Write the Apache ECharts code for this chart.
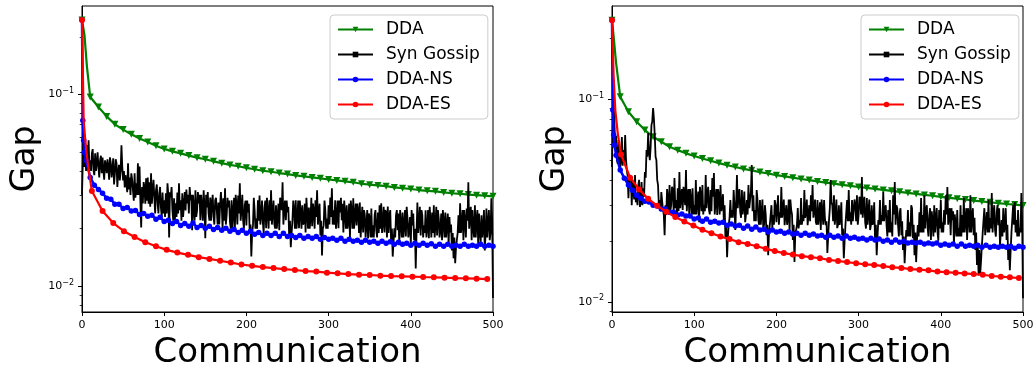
<!DOCTYPE html>
<html>
<head>
<meta charset="utf-8">
<script src="https://cdn.jsdelivr.net/npm/echarts@6.0.0/dist/echarts.min.js"></script>
<style>
html,body{margin:0;padding:0;background:#fff;}
#chart{width:1034px;height:370px;}
</style>
</head>
<body>
<div id="chart"></div>
<script>
// ---------- data ----------
const seriesNames = ['DDA', 'Syn Gossip', 'DDA-NS', 'DDA-ES'];
const xTickValues = [0, 100, 200, 300, 400, 500];
const yMajorTicks = [0.01, 0.1];
const yMinorTicks = [0.008, 0.009, 0.02, 0.03, 0.04, 0.05, 0.06, 0.07, 0.08, 0.09, 0.2];
const leftYRange = [0.00735, 0.2899];
const rightYRange = [0.0089, 0.2891];

function range(a, b, s) { const r = []; for (let v = a; v <= b + 1e-9; v += s) r.push(v); return r; }

// DDA (green)
const leftDdaHeadX = [0, 3, 6];
const leftDdaHeadY = [0.245, 0.205, 0.140];
const leftDdaX = range(10, 500, 10);
const leftDdaY = [0.0972,0.0862,0.0770,0.0700,0.0657,0.0621,0.0590,0.0566,0.0541,0.0521,
  0.0506,0.0494,0.0481,0.0469,0.0460,0.0449,0.0439,0.0430,0.0423,0.0415,
  0.0408,0.0401,0.0396,0.0390,0.0385,0.0379,0.0375,0.0370,0.0366,0.0361,
  0.0357,0.0353,0.0349,0.0343,0.0339,0.0336,0.0333,0.0328,0.0325,0.0322,
  0.0318,0.0315,0.0313,0.0309,0.0306,0.0304,0.0301,0.0299,0.0297,0.0295];
const rightDdaHeadX = [0, 2, 5];
const rightDdaHeadY = [0.246, 0.204, 0.151];
const rightDdaX = range(10, 500, 10);
const rightDdaY = [0.103,0.0868,0.0775,0.0705,0.0653,0.0617,0.0583,0.0561,0.0541,0.0525,
  0.0510,0.0497,0.0484,0.0473,0.0463,0.0453,0.0446,0.0437,0.0430,0.0422,
  0.0416,0.0410,0.0404,0.0399,0.0393,0.0388,0.0383,0.0378,0.0374,0.0369,
  0.0365,0.0361,0.0357,0.0353,0.0349,0.0345,0.0341,0.0337,0.0334,0.0330,
  0.0326,0.0323,0.0320,0.0316,0.0313,0.0310,0.0307,0.0304,0.0302,0.0299];

// DDA-ES (red)
const leftEsHeadX = [0, 2, 4, 7];
const leftEsHeadY = [0.245, 0.0734, 0.0578, 0.0439];
const leftEsX = range(12, 493, 13);
const leftEsY = [0.0314,0.0247,0.0214,0.0194,0.0181,0.0170,0.0162,0.0155,0.0150,0.0146,
  0.0142,0.0139,0.0136,0.0133,0.0130,0.0128,0.0126,0.01246,0.01231,0.01217,
  0.01202,0.01194,0.01179,0.01169,0.01159,0.01151,0.01146,0.01137,0.01132,0.01128,
  0.01124,0.01119,0.01115,0.01110,0.01105,0.01101,0.01097,0.01092];
const rightEsHeadX = [0, 2, 4, 7];
const rightEsHeadY = [0.246, 0.129, 0.0885, 0.0679];
const rightEsX = range(11, 495, 11);
const rightEsY = [0.0534,0.0410,0.0359,0.0323,0.0298,0.0278,0.0262,0.0249,0.0238,0.0227,
  0.0218,0.0210,0.0204,0.0197,0.0193,0.0188,0.0183,0.0178,0.0174,0.0171,
  0.0168,0.0166,0.0164,0.0161,0.0159,0.0157,0.0155,0.0153,0.0152,0.0150,
  0.0148,0.0147,0.0145,0.0144,0.0143,0.0141,0.0140,0.0139,0.0138,0.0137,
  0.0136,0.0134,0.0133,0.0132,0.0131];

// DDA-NS (blue)
const nsHeadX = [0, 1, 2, 3, 5];
const nsX = range(10, 500, 5);
const leftNsHeadY = [0.245, 0.0734, 0.0578, 0.0500, 0.0454];
const leftNsY = [0.0370,0.0337,0.0320,0.0306,0.0288,0.0285,0.0268,0.0268,0.0255,0.0258,
  0.0247,0.0249,0.0237,0.0240,0.0232,0.0235,0.0224,0.0229,0.0218,0.0221,
  0.0213,0.0218,0.0208,0.0213,0.0206,0.0214,0.0203,0.0208,0.0201,0.0206,
  0.0198,0.0203,0.0196,0.0201,0.0194,0.0198,0.0191,0.0196,0.0189,0.0194,
  0.0187,0.0191,0.0184,0.0189,0.0184,0.0189,0.0182,0.0189,0.0182,0.0184,
  0.0180,0.0184,0.0178,0.0182,0.0178,0.0182,0.0176,0.0180,0.0176,0.0178,
  0.0174,0.0178,0.0172,0.0176,0.0172,0.0174,0.0170,0.0174,0.0170,0.0172,
  0.0168,0.0172,0.0168,0.0171,0.0166,0.0170,0.0166,0.0168,0.0164,0.0168,
  0.0164,0.0168,0.0164,0.0167,0.0162,0.0166,0.0162,0.0166,0.0162,0.0164,
  0.0162,0.0166,0.0162,0.0164,0.0162,0.0166,0.0162,0.0164,0.0162];
const rightNsHeadY = [0.246, 0.0885, 0.0666, 0.0594, 0.0530];
const rightNsY = [0.0447,0.0408,0.0377,0.0356,0.0336,0.0325,0.0314,0.0311,0.0300,0.0297,
  0.0287,0.0287,0.0277,0.0277,0.0268,0.0271,0.0265,0.0265,0.0256,0.0259,
  0.0250,0.0256,0.0247,0.0250,0.0245,0.0247,0.0239,0.0242,0.0237,0.0239,
  0.0231,0.0237,0.0228,0.0234,0.0226,0.0228,0.0221,0.0226,0.0221,0.0223,
  0.0218,0.0221,0.0216,0.0218,0.0213,0.0218,0.0213,0.0216,0.0211,0.0213,
  0.0208,0.0213,0.0208,0.0211,0.0206,0.0211,0.0206,0.0208,0.0204,0.0206,
  0.0202,0.0206,0.0202,0.0204,0.0199,0.0202,0.0197,0.0202,0.0197,0.0199,
  0.0195,0.0197,0.0195,0.0197,0.0193,0.0195,0.0193,0.0195,0.0190,0.0193,
  0.0190,0.0193,0.0188,0.0193,0.0188,0.0190,0.0188,0.0190,0.0186,0.0190,
  0.0186,0.0188,0.0186,0.0188,0.0186,0.0188,0.0184,0.0188,0.0186];

// Syn Gossip (black), one value per communication from 0 to 500
const gossipX = range(0, 500, 1);
const leftGossipY = [
  0.030,0.045,0.0599,0.042,0.0500,0.040,0.0544,0.044,0.0578,0.041,
  0.0454,0.040,0.0494,0.052,0.0403,0.038,0.0494,0.040,0.0438,0.050,
  0.0418,0.037,0.0454,0.048,0.0389,0.047,0.0403,0.036,0.0454,0.043,
  0.0389,0.046,0.0418,0.036,0.0471,0.044,0.0370,0.041,0.0465,0.034,
  0.0389,0.046,0.0438,0.033,0.0393,0.043,0.0357,0.040,0.0544,0.042,
  0.0357,0.040,0.0328,0.038,0.0345,0.031,0.0438,0.032,0.0370,0.030,
  0.0389,0.036,0.0317,0.028,0.0389,0.029,0.0345,0.030,0.0438,0.030,
  0.0422,0.028,0.0203,0.033,0.0271,0.035,0.0328,0.027,0.0366,0.028,
  0.0370,0.027,0.0349,0.026,0.0389,0.027,0.0317,0.036,0.0291,0.024,
  0.0317,0.034,0.0271,0.024,0.0306,0.033,0.0258,0.023,0.0309,0.024,
  0.0281,0.023,0.0306,0.024,0.0345,0.030,0.0180,0.031,0.0291,0.033,
  0.0249,0.022,0.0288,0.022,0.0271,0.023,0.0309,0.024,0.0345,0.025,
  0.0281,0.022,0.0306,0.023,0.0265,0.031,0.0249,0.032,0.0271,0.030,
  0.0240,0.033,0.0281,0.030,0.0196,0.030,0.0255,0.022,0.0317,0.023,
  0.0249,0.031,0.0271,0.030,0.0221,0.030,0.0258,0.022,0.0317,0.026,
  0.0178,0.030,0.0258,0.031,0.0240,0.022,0.0291,0.022,0.0271,0.030,
  0.0232,0.021,0.0281,0.029,0.0249,0.021,0.0274,0.021,0.0265,0.031,
  0.0265,0.020,0.0288,0.022,0.0325,0.021,0.0235,0.029,0.0258,0.028,
  0.0216,0.020,0.0281,0.020,0.0243,0.029,0.0201,0.030,0.0265,0.021,
  0.0298,0.024,0.0345,0.022,0.0249,0.030,0.0221,0.020,0.0265,0.028,
  0.0208,0.028,0.0243,0.027,0.0191,0.021,0.0143,0.019,0.0208,0.029,
  0.0249,0.020,0.0226,0.020,0.0281,0.022,0.0298,0.021,0.0235,0.028,
  0.0216,0.019,0.0258,0.028,0.0201,0.029,0.0243,0.020,0.0281,0.022,
  0.0317,0.021,0.0240,0.028,0.0211,0.020,0.0265,0.020,0.0232,0.027,
  0.0196,0.029,0.0271,0.025,0.0349,0.021,0.0255,0.028,0.0221,0.028,
  0.0243,0.026,0.0184,0.022,0.0160,0.019,0.0221,0.028,0.0249,0.020,
  0.0281,0.020,0.0226,0.028,0.0201,0.028,0.0243,0.020,0.0265,0.021,
  0.0216,0.027,0.0191,0.029,0.0240,0.020,0.0258,0.020,0.0226,0.029,
  0.0206,0.027,0.0249,0.020,0.0281,0.023,0.0317,0.021,0.0243,0.027,
  0.0184,0.022,0.0145,0.020,0.0208,0.028,0.0249,0.020,0.0226,0.020,
  0.0265,0.021,0.0291,0.023,0.0325,0.021,0.0249,0.021,0.0281,0.020,
  0.0235,0.028,0.0201,0.028,0.0243,0.029,0.0221,0.027,0.0191,0.028,
  0.0237,0.020,0.0265,0.020,0.0221,0.027,0.0178,0.028,0.0249,0.020,
  0.0288,0.020,0.0235,0.027,0.0208,0.027,0.0249,0.019,0.0274,0.018,
  0.0221,0.026,0.0191,0.025,0.0237,0.018,0.0208,0.025,0.0178,0.024,
  0.0226,0.018,0.0255,0.018,0.0208,0.018,0.0235,0.025,0.0196,0.018,
  0.0243,0.019,0.0265,0.020,0.0271,0.019,0.0216,0.026,0.0191,0.025,
  0.0243,0.018,0.0261,0.019,0.0232,0.025,0.0174,0.020,0.0143,0.017,
  0.0201,0.018,0.0235,0.025,0.0196,0.024,0.0164,0.025,0.0216,0.018,
  0.0243,0.018,0.0208,0.025,0.0182,0.026,0.0226,0.018,0.0196,0.023,
  0.0164,0.025,0.0208,0.024,0.0174,0.020,0.0124,0.019,0.0274,0.019,
  0.0216,0.026,0.0184,0.025,0.0235,0.018,0.0208,0.019,0.0249,0.018,
  0.0201,0.025,0.0178,0.026,0.0221,0.018,0.0243,0.019,0.0265,0.018,
  0.0208,0.026,0.0184,0.025,0.0226,0.018,0.0196,0.024,0.0174,0.025,
  0.0216,0.018,0.0243,0.018,0.0208,0.024,0.0164,0.023,0.0191,0.021,
  0.0154,0.019,0.0140,0.018,0.0132,0.016,0.0174,0.019,0.0235,0.019,
  0.0271,0.019,0.0208,0.025,0.0174,0.025,0.0221,0.018,0.0255,0.022,
  0.0349,0.020,0.0235,0.026,0.0174,0.025,0.0201,0.018,0.0265,0.018,
  0.0221,0.025,0.0164,0.024,0.0191,0.017,0.0235,0.018,0.0201,0.025,
  0.0154,0.019,0.0255,0.018,0.0216,0.025,0.0174,0.019,0.0288,0.022,
  0.0087];
const rightGossipY = [
  0.0463,0.085,0.1245,0.075,0.0594,0.066,0.0501,0.048,0.0629,0.052,
  0.0458,0.050,0.0651,0.047,0.0561,0.049,0.0666,0.051,0.0447,0.042,
  0.0325,0.041,0.0399,0.041,0.0300,0.040,0.0356,0.032,0.0423,0.031,
  0.0336,0.030,0.0377,0.040,0.0294,0.031,0.0390,0.030,0.0364,0.033,
  0.0437,0.041,0.0561,0.052,0.0681,0.055,0.0501,0.058,0.0746,0.078,
  0.0906,0.080,0.0666,0.052,0.0501,0.040,0.0377,0.030,0.0318,0.028,
  0.0348,0.035,0.0284,0.027,0.0213,0.030,0.0268,0.036,0.0325,0.027,
  0.0377,0.028,0.0300,0.037,0.0356,0.028,0.0408,0.029,0.0318,0.027,
  0.0364,0.028,0.0437,0.029,0.0325,0.036,0.0284,0.037,0.0377,0.030,
  0.0447,0.028,0.0336,0.036,0.0268,0.036,0.0318,0.027,0.0364,0.027,
  0.0300,0.027,0.0399,0.027,0.0318,0.035,0.0247,0.037,0.0336,0.028,
  0.0377,0.027,0.0300,0.028,0.0423,0.029,0.0336,0.037,0.0284,0.027,
  0.0356,0.028,0.0408,0.033,0.0432,0.027,0.0318,0.036,0.0268,0.036,
  0.0336,0.027,0.0377,0.028,0.0300,0.034,0.0253,0.030,0.0206,0.024,
  0.0166,0.021,0.0239,0.026,0.0318,0.026,0.0284,0.026,0.0356,0.030,
  0.0226,0.030,0.0423,0.029,0.0336,0.036,0.0277,0.026,0.0356,0.027,
  0.0300,0.035,0.0247,0.027,0.0318,0.027,0.0377,0.029,0.0284,0.035,
  0.0474,0.028,0.0336,0.025,0.0284,0.025,0.0356,0.032,0.0253,0.024,
  0.0318,0.024,0.0277,0.032,0.0231,0.024,0.0300,0.027,0.0213,0.024,
  0.0170,0.022,0.0239,0.024,0.0300,0.023,0.0268,0.024,0.0318,0.030,
  0.0247,0.025,0.0336,0.024,0.0277,0.026,0.0369,0.026,0.0284,0.032,
  0.0239,0.024,0.0300,0.024,0.0259,0.032,0.0221,0.032,0.0284,0.027,
  0.0202,0.024,0.0157,0.022,0.0226,0.024,0.0290,0.023,0.0253,0.024,
  0.0325,0.024,0.0268,0.025,0.0356,0.026,0.0277,0.032,0.0239,0.024,
  0.0300,0.025,0.0336,0.028,0.0377,0.026,0.0284,0.032,0.0247,0.024,
  0.0318,0.024,0.0268,0.031,0.0226,0.032,0.0277,0.024,0.0318,0.026,
  0.0239,0.025,0.0174,0.021,0.0253,0.029,0.0399,0.031,0.0300,0.025,
  0.0336,0.024,0.0268,0.032,0.0231,0.024,0.0300,0.024,0.0259,0.031,
  0.0213,0.023,0.0164,0.020,0.0239,0.024,0.0318,0.025,0.0356,0.025,
  0.0277,0.024,0.0318,0.025,0.0253,0.032,0.0300,0.025,0.0336,0.024,
  0.0268,0.033,0.0318,0.027,0.0413,0.026,0.0300,0.033,0.0247,0.023,
  0.0325,0.024,0.0277,0.032,0.0226,0.024,0.0300,0.024,0.0253,0.031,
  0.0202,0.024,0.0170,0.021,0.0253,0.024,0.0318,0.024,0.0268,0.025,
  0.0348,0.025,0.0284,0.030,0.0239,0.021,0.0284,0.022,0.0318,0.022,
  0.0247,0.021,0.0336,0.027,0.0390,0.024,0.0300,0.029,0.0239,0.021,
  0.0277,0.029,0.0213,0.025,0.0180,0.021,0.0155,0.019,0.0226,0.021,
  0.0284,0.021,0.0247,0.021,0.0300,0.029,0.0206,0.024,0.0170,0.022,
  0.0157,0.020,0.0239,0.021,0.0277,0.022,0.0325,0.022,0.0268,0.022,
  0.0336,0.023,0.0284,0.030,0.0231,0.021,0.0268,0.029,0.0202,0.028,
  0.0247,0.021,0.0300,0.022,0.0259,0.029,0.0221,0.020,0.0284,0.023,
  0.0318,0.022,0.0247,0.022,0.0284,0.024,0.0336,0.027,0.0369,0.024,
  0.0268,0.029,0.0213,0.029,0.0253,0.028,0.0190,0.027,0.0239,0.021,
  0.0284,0.021,0.0231,0.021,0.0300,0.021,0.0268,0.022,0.0325,0.022,
  0.0253,0.029,0.0202,0.029,0.0268,0.022,0.0336,0.022,0.0259,0.029,
  0.0213,0.026,0.0180,0.022,0.0152,0.019,0.0135,0.018,0.0138,0.016,
  0.0190,0.022,0.0253,0.029,0.0213,0.021,0.0277,0.022,0.0318,0.022,
  0.0259,0.023,0.0344,0.022,0.0268,0.030,0.0226,0.021,0.0277,0.030,
  0.0239,0.029,0.0190,0.022,0.0253,0.021,0.0290,0.022,0.0239,0.029,
  0.0202,0.024,0.0161,0.019,0.0143,0.018,0.0221,0.022,0.0300,0.024,
  0.0311,0.022,0.0253,0.021,0.0284,0.021,0.0231,0.022,0.0344,0.025,
  0.0104];

// ---------- build ----------
const FONT = 'DejaVu Sans';
function markedData(headX, headY, xs, ys) {
  const d = [];
  headX.forEach((x, i) => d.push(i === 0 ? [x, headY[i]] : { value: [x, headY[i]], symbol: 'none' }));
  xs.forEach((x, i) => d.push([x, ys[i]]));
  return d;
}
function plainData(xs, ys) { return ys.map((y, i) => [xs[i], y]); }

const panels = [
  { left: 82, yRange: leftYRange, legendLeft: 330,
    dda: markedData(leftDdaHeadX, leftDdaHeadY, leftDdaX, leftDdaY),
    gossip: plainData(gossipX, leftGossipY),
    ns: plainData(nsHeadX.concat(nsX), leftNsHeadY.concat(leftNsY)),
    es: markedData(leftEsHeadX, leftEsHeadY, leftEsX, leftEsY) },
  { left: 612, yRange: rightYRange, legendLeft: 861,
    dda: markedData(rightDdaHeadX, rightDdaHeadY, rightDdaX, rightDdaY),
    gossip: plainData(gossipX, rightGossipY),
    ns: plainData(nsHeadX.concat(nsX), rightNsHeadY.concat(rightNsY)),
    es: markedData(rightEsHeadX, rightEsHeadY, rightEsX, rightEsY) }
];

const grid = [], xAxis = [], yAxis = [], series = [], legend = [];
panels.forEach((p, g) => {
  grid.push({ left: p.left, top: 6, width: 411, height: 306, containLabel: false, outerBoundsMode: 'none',
    show: true, borderColor: '#000', borderWidth: 1, backgroundColor: 'transparent' });
  xAxis.push({
    gridIndex: g, type: 'value', min: 0, max: 500, interval: 100,
    name: 'Communication', nameLocation: 'middle', nameGap: 21,
    nameTextStyle: { fontSize: 34, color: '#000', fontFamily: FONT },
    axisLine: { show: true, lineStyle: { color: '#000', width: 1 } },
    axisTick: { show: true, length: 4, inside: false, lineStyle: { color: '#000' }, customValues: xTickValues },
    axisLabel: { show: true, margin: 8, fontSize: 11, color: '#000', fontFamily: FONT, customValues: xTickValues },
    splitLine: { show: false }
  });
  yAxis.push({
    gridIndex: g, type: 'log', logBase: 10, position: 'left', min: p.yRange[0], max: p.yRange[1],
    name: 'Gap', nameLocation: 'middle', nameGap: 40,
    nameTextStyle: { fontSize: 33, color: '#000', fontFamily: FONT },
    axisLine: { show: true, lineStyle: { color: '#000', width: 1 } },
    axisTick: { show: true, length: 4, inside: false, lineStyle: { color: '#000' }, customValues: yMajorTicks },
    axisLabel: { show: true, margin: 8, fontSize: 11, color: '#000', fontFamily: FONT,
      customValues: yMajorTicks,
      formatter: v => '10{sup|\u2212' + Math.round(-Math.log10(v)) + '}',
      rich: { sup: { fontSize: 8, color: '#000', fontFamily: FONT, padding: [0, 0, 7, 0] } } },
    splitLine: { show: false }
  });
  yAxis.push({
    gridIndex: g, type: 'log', logBase: 10, position: 'left', min: p.yRange[0], max: p.yRange[1],
    axisLine: { show: false },
    axisTick: { show: true, length: 2.3, inside: false, lineStyle: { color: '#000', width: 0.8 }, customValues: yMinorTicks },
    axisLabel: { show: false },
    splitLine: { show: false }
  });
  const yi = g * 2;
  series.push({ name: 'DDA', type: 'line', xAxisIndex: g, yAxisIndex: yi, data: p.dda,
    color: '#008000', lineStyle: { width: 2.2, color: '#008000' }, itemStyle: { color: '#008000' },
    symbol: 'triangle', symbolRotate: 180, symbolSize: 7, showSymbol: true, animation: false, z: 2 });
  series.push({ name: 'Syn Gossip', type: 'line', xAxisIndex: g, yAxisIndex: yi, data: p.gossip,
    color: '#000000', lineStyle: { width: 1.8, color: '#000' }, itemStyle: { color: '#000' },
    symbol: 'rect', symbolSize: 5, showSymbol: false, animation: false, z: 3 });
  series.push({ name: 'DDA-NS', type: 'line', xAxisIndex: g, yAxisIndex: yi, data: p.ns,
    color: '#0000ff', lineStyle: { width: 2.5, color: '#0000ff' }, itemStyle: { color: '#0000ff' },
    symbol: 'circle', symbolSize: 5.5, showSymbol: true, animation: false, z: 4 });
  series.push({ name: 'DDA-ES', type: 'line', xAxisIndex: g, yAxisIndex: yi, data: p.es,
    color: '#ff0000', lineStyle: { width: 2.2, color: '#ff0000' }, itemStyle: { color: '#ff0000' },
    symbol: 'circle', symbolSize: 6, showSymbol: true, animation: false, z: 5 });
  legend.push({
    left: p.legendLeft, top: 15, orient: 'vertical', data: seriesNames,
    itemWidth: 35, itemHeight: 7, itemGap: 8, selectedMode: false,
    textStyle: { fontSize: 17, color: '#000', fontFamily: FONT, padding: [0, 0, 0, 8] },
    backgroundColor: 'rgba(255,255,255,0.8)', borderColor: '#cccccc', borderWidth: 1, borderRadius: 4,
    padding: [6, 8, 6, 7]
  });
});

const chart = echarts.init(document.getElementById('chart'), null, { renderer: 'canvas' });
chart.setOption({
  animation: false,
  backgroundColor: '#ffffff',
  textStyle: { fontFamily: FONT },
  grid, xAxis, yAxis, series, legend
});
</script>
</body>
</html>
